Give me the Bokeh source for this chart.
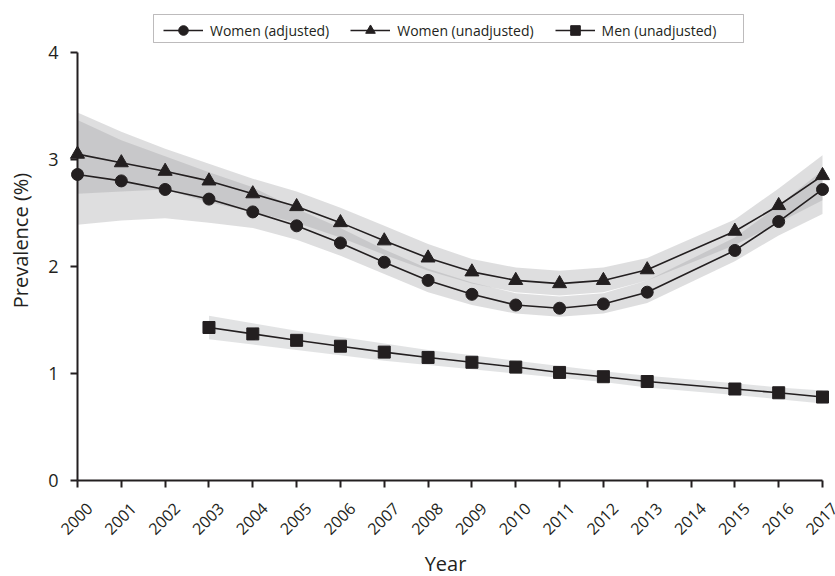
import math
from bokeh.plotting import figure
from bokeh.models import (Range1d, Legend, LegendItem, FixedTicker, ColumnDataSource,
                          LabelSet, Label, BoxAnnotation)
from bokeh.core.properties import value
from bokeh.embed import file_html
from bokeh.resources import INLINE

years = [2000, 2001, 2002, 2003, 2004, 2005, 2006, 2007, 2008, 2009, 2010, 2011, 2012, 2013, 2015, 2016, 2017]
women_adj = [2.86, 2.80, 2.72, 2.63, 2.51, 2.38, 2.22, 2.04, 1.87, 1.74, 1.64, 1.61, 1.65, 1.76, 2.15, 2.42, 2.72]
women_adj_lo = [2.39, 2.43, 2.45, 2.41, 2.36, 2.25, 2.10, 1.93, 1.76, 1.64, 1.56, 1.53, 1.56, 1.66, 2.05, 2.29, 2.49]
women_adj_hi = [3.37, 3.18, 3.03, 2.88, 2.74, 2.54, 2.36, 2.16, 1.98, 1.85, 1.75, 1.72, 1.75, 1.87, 2.27, 2.57, 2.90]
women_unadj = [3.05, 2.97, 2.89, 2.80, 2.68, 2.56, 2.41, 2.24, 2.08, 1.95, 1.87, 1.84, 1.87, 1.97, 2.33, 2.57, 2.85]
women_unadj_lo = [2.68, 2.70, 2.72, 2.60, 2.51, 2.41, 2.27, 2.11, 1.96, 1.84, 1.76, 1.73, 1.76, 1.87, 2.20, 2.41, 2.62]
women_unadj_hi = [3.44, 3.26, 3.10, 2.96, 2.82, 2.70, 2.55, 2.38, 2.21, 2.07, 1.99, 1.96, 1.99, 2.08, 2.44, 2.73, 3.04]
men_years = [2003, 2004, 2005, 2006, 2007, 2008, 2009, 2010, 2011, 2012, 2013, 2015, 2016, 2017]
men_unadj = [1.43, 1.37, 1.31, 1.255, 1.20, 1.15, 1.105, 1.06, 1.01, 0.97, 0.925, 0.855, 0.82, 0.78]
men_lo = [1.32, 1.27, 1.22, 1.17, 1.12, 1.08, 1.04, 1.00, 0.96, 0.92, 0.87, 0.80, 0.76, 0.72]
men_hi = [1.54, 1.47, 1.40, 1.34, 1.28, 1.22, 1.17, 1.12, 1.07, 1.02, 0.98, 0.91, 0.87, 0.84]
x_ticks = list(range(2000, 2018))
x_tick_labels = [str(t) for t in x_ticks]
y_ticks = [0, 1, 2, 3, 4]
y_tick_labels = [str(t) for t in y_ticks]

FONT = "Open Sans"
INK = "#231f20"

W, H = 835, 576
LEFT, TOP = 8, 12
AX_L, AX_R, AX_T, AX_B = 77, 822, 52, 480   # where the axes sit on the page
X0, X1 = 2000, 2017
Y0, Y1 = 0, 4
PX_X = (AX_R - AX_L) / (X1 - X0)
PX_Y = (AX_B - AX_T) / (Y1 - Y0)
x_start = X0 - (AX_L - LEFT) / PX_X
x_end = X1 + (W - AX_R) / PX_X
y_top = Y1 + (AX_T - TOP) / PX_Y
y_bot = Y0 - (H - AX_B) / PX_Y

p = figure(width=W, height=H, output_backend="svg", toolbar_location=None,
           x_range=Range1d(x_start, x_end), y_range=Range1d(y_bot, y_top),
           x_axis_location="above",
           min_border_left=LEFT, min_border_right=0, min_border_top=TOP, min_border_bottom=0)
p.outline_line_color = None
p.grid.visible = False
p.background_fill_color = "white"

def band(xs, lo, hi, color, alpha):
    px = list(xs) + list(xs)[::-1]
    py = list(hi) + list(lo)[::-1]
    p.patch(px, py, fill_color=color, fill_alpha=alpha, line_color=None)

band(years, women_adj_lo, women_adj_hi, "#a0a0a4", 0.35)
band(years, women_unadj_lo, women_unadj_hi, "#a0a0a4", 0.35)
band(men_years, men_lo, men_hi, "#b4b5b8", 0.38)

l1 = p.line(years, women_adj, line_color=INK, line_width=1.6)
s1 = p.scatter(years, women_adj, marker="circle", size=12, fill_color=INK, line_color=INK)
l2 = p.line(years, women_unadj, line_color=INK, line_width=1.6)
s2 = p.scatter(years, women_unadj, marker="triangle", size=14, fill_color=INK, line_color=INK)
l3 = p.line(men_years, men_unadj, line_color=INK, line_width=1.6)
s3 = p.scatter(men_years, men_unadj, marker="square", size=12, fill_color=INK, line_color=INK)

for ax in (p.xaxis, p.yaxis):
    ax.axis_line_width = 2
    ax.axis_line_color = INK
    ax.major_tick_line_width = 2
    ax.major_tick_line_color = INK
    ax.minor_tick_line_color = None
    ax.major_label_text_font_size = "0px"
    ax.major_label_text_color = None
    ax.major_label_standoff = 0

# x axis drawn at y = 0, ticks pointing down
p.xaxis.fixed_location = Y0
p.xaxis.bounds = (X0, X1)
p.xaxis.ticker = FixedTicker(ticks=x_ticks)
p.xaxis.major_tick_out = 0
p.xaxis.major_tick_in = 7

# y axis drawn at x = 2000, ticks pointing left
p.yaxis.fixed_location = X0
p.yaxis.bounds = (Y0, Y1)
p.yaxis.ticker = FixedTicker(ticks=y_ticks)
p.yaxis.major_tick_out = 7
p.yaxis.major_tick_in = 0

# tick labels
xt_src = ColumnDataSource(dict(x=x_ticks, y=[Y0] * len(x_ticks), t=x_tick_labels))
p.add_layout(LabelSet(x="x", y="y", text="t", source=xt_src, angle=math.pi / 4,
                      x_offset=-1, y_offset=-38, text_align="center", text_baseline="middle",
                      text_font=value(FONT), text_font_size=value("16px"), text_color=INK))
yt_src = ColumnDataSource(dict(x=[X0] * len(y_ticks), y=y_ticks, t=y_tick_labels))
p.add_layout(LabelSet(x="x", y="y", text="t", source=yt_src, x_offset=-19, y_offset=0,
                      text_align="right", text_baseline="middle",
                      text_font=value(FONT), text_font_size=value("18px"), text_color=INK))

# axis titles
p.add_layout(Label(x=445 - LEFT, y=H - 563, x_units="screen", y_units="screen", text="Year",
                   text_align="center", text_baseline="middle", text_font=FONT,
                   text_font_size="20px", text_color=INK))
p.add_layout(Label(x=20 - LEFT, y=H - 240, x_units="screen", y_units="screen",
                   text="Prevalence (%)", angle=math.pi / 2,
                   text_align="center", text_baseline="middle", text_font=FONT,
                   text_font_size="20px", text_color=INK))

legend = Legend(items=[
    LegendItem(label="Women (adjusted)", renderers=[l1, s1]),
    LegendItem(label="Women (unadjusted)", renderers=[l2, s2]),
    LegendItem(label="Men (unadjusted)", renderers=[l3, s3]),
], orientation="horizontal", location=(163 - LEFT, H - 42))
legend.label_text_font = FONT
legend.label_text_font_size = "14px"
legend.label_text_color = INK
legend.border_line_color = None
legend.glyph_width = 40
legend.glyph_height = 24
legend.spacing = 21
legend.padding = 2
legend.margin = 0
legend.label_standoff = 7
legend.background_fill_alpha = 0
p.add_layout(legend, "center")

# frame drawn round the legend
p.add_layout(BoxAnnotation(left=153 - LEFT, right=743 - LEFT, bottom=H - 42, top=H - 14,
                           left_units="screen", right_units="screen",
                           bottom_units="screen", top_units="screen",
                           fill_color=None, line_color=INK, line_width=1, level="overlay"))

open("out.html", "w").write(file_html(p, INLINE))
